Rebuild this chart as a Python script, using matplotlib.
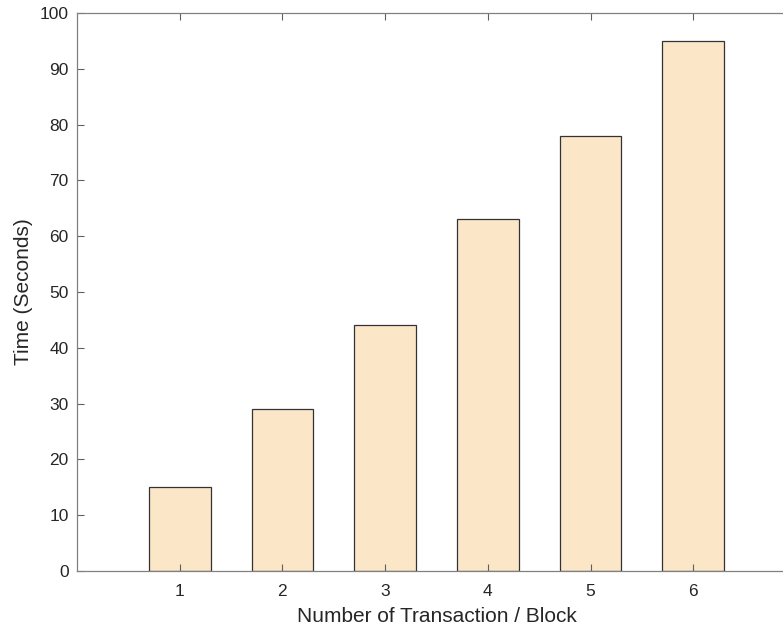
import matplotlib.pyplot as plt

# Datos
bloques = [1, 2, 3, 4, 5, 6]
tiempos = [15, 29, 44, 63, 78, 95]

plt.rcParams['font.family'] = ['Liberation Sans', 'DejaVu Sans']

W, H = 783, 629
fig = plt.figure(figsize=(W / 100, H / 100), dpi=100)
# los ejes se salen por la derecha, como en la captura original
ax = fig.add_axes([77 / W, 1 - 571 / H, (796 - 77) / W, (571 - 13) / H])

ax.bar(bloques, tiempos, width=0.6, color='#FCE6C8', edgecolor='#333333', linewidth=0.9)

ax.set_xlim(0, 7)
ax.set_ylim(0, 100)
ax.set_xticks(bloques)
ax.set_yticks(range(0, 101, 10))

for s in ax.spines.values():
    s.set_color('#808080')
    s.set_linewidth(0.9)
ax.tick_params(direction='in', top=True, right=True, length=5, width=0.8,
               color='#606060', labelsize=12.5, labelcolor='#262626')
ax.tick_params(axis='x', pad=9)
ax.tick_params(axis='y', pad=6)

ax.set_xlabel("Number of Transaction / Block", fontsize=15, color='#262626', labelpad=6)
ax.set_ylabel("Time (Seconds)", fontsize=15, color='#262626', labelpad=5)

fig.savefig("out.png", dpi=100)
